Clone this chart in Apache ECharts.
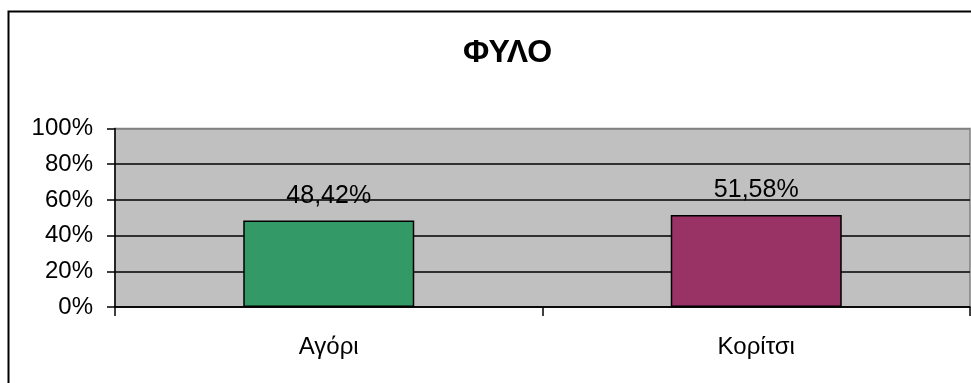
<!DOCTYPE html>
<html>
<head>
<meta charset="utf-8">
<script src="https://cdn.jsdelivr.net/npm/echarts@6/dist/echarts.min.js"></script>
<style>
html,body{margin:0;padding:0;background:#fff;}
#c{width:971px;height:383px;}
</style>
</head>
<body>
<div id="c"></div>
<script>
const titleText = 'ΦΥΛΟ';
const categories = ['Αγόρι', 'Κορίτσι'];
const values = [48.42, 51.58];
const barColors = ['#339966', '#993366'];
const yTicks = [0, 20, 40, 60, 80, 100];

const chart = echarts.init(document.getElementById('c'));
const font = '"Liberation Sans", Arial, sans-serif';
chart.setOption({
  animation: false,
  backgroundColor: '#ffffff',
  title: {
    text: titleText,
    left: 458,
    top: 32,
    textStyle: { fontFamily: font, fontSize: 32, fontWeight: 'bold', color: '#000' }
  },
  graphic: [{
    type: 'rect',
    shape: { x: 8.5, y: 11.5, width: 1000, height: 400 },
    style: { fill: 'none', stroke: '#000', lineWidth: 2 },
    silent: true,
    z: 100
  }],
  grid: {
    left: 115, right: 1, top: 128.5, bottom: 76,
    show: true, backgroundColor: '#C0C0C0', borderColor: '#808080', borderWidth: 1.5
  },
  xAxis: {
    type: 'category',
    data: categories,
    axisLine: { lineStyle: { color: '#000', width: 1.5 } },
    axisTick: { show: true, length: 9, alignWithLabel: false, lineStyle: { color: '#000', width: 1.5 } },
    axisLabel: { color: '#000', fontFamily: font, fontSize: 24, margin: 28 }
  },
  yAxis: {
    type: 'value',
    min: 0, max: 100, interval: 20,
    axisLine: { show: true, lineStyle: { color: '#000', width: 1.5 } },
    axisTick: { show: true, length: 8, lineStyle: { color: '#000', width: 1.5 } },
    axisLabel: {
      color: '#000', fontFamily: font, fontSize: 24, margin: 22,
      formatter: v => yTicks.includes(v) ? v + '%' : ''
    },
    splitLine: { show: true, lineStyle: { color: ['#000', '#000', '#000', '#000', '#000', '#808080'], width: 1.5 } }
  },
  series: [{
    type: 'bar',
    data: values.map((v, i) => ({
      value: v,
      itemStyle: { color: barColors[i], borderColor: '#000', borderWidth: 1.5 }
    })),
    barCategoryGap: '60%',
    label: {
      show: true,
      position: 'top',
      distance: 12,
      color: '#000',
      fontFamily: font,
      fontSize: 25,
      formatter: p => p.value.toFixed(2).replace('.', ',') + '%'
    }
  }]
});
</script>
</body>
</html>
